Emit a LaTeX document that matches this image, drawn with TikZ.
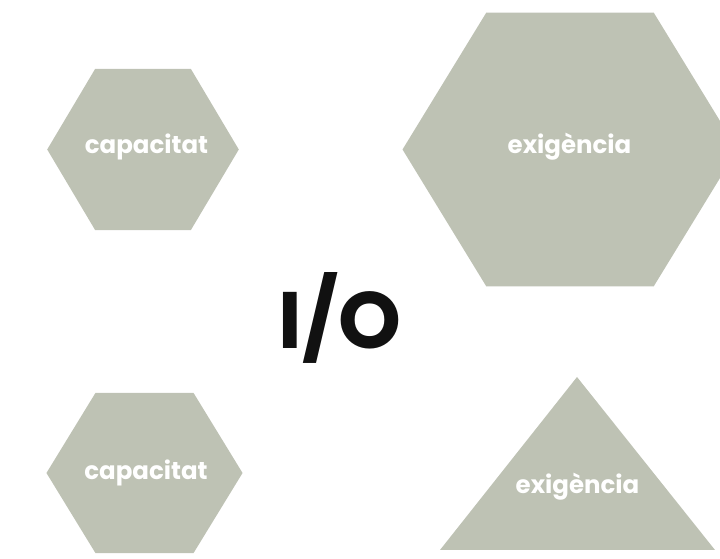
\documentclass[tikz,border=0pt]{standalone}
\usepackage{fontspec}
\setmainfont{Poppins}
\usepackage{tikz}
\usetikzlibrary{shapes.geometric}
\definecolor{sage}{HTML}{BEC2B4}
\definecolor{ink}{HTML}{111111}
\tikzset{
  hexa/.style ={regular polygon, regular polygon sides=6, fill=sage, draw=none,
                inner sep=0pt, outer sep=0pt, transform shape},
  word/.style ={font=\fontsize{24.5}{28}\selectfont\bfseries, text=white},
  tri/.style  ={fill=sage, draw=none},
}
\begin{document}
\begin{tikzpicture}[x=1pt,y=1pt]
  \useasboundingbox (0,0) rectangle (720,559);
  \clip (0,0) rectangle (720,559);
  % hexagons
  \node[hexa, minimum size=186pt, xscale=1.03](capA) at (143,409.5){};
  \node[hexa, minimum size=316pt, xscale=1.06](exiA) at (570,409.5){};
  \node[hexa, minimum size=185pt, xscale=1.06](capB) at (144.5,86){};
  % triangle
  \coordinate (tl) at (440,9);
  \coordinate (tr) at (715,9);
  \coordinate (tt) at (577,182);
  \fill[tri] (tl) -- (tr) -- (tt) -- cycle;
  % labels
  \node[word] (capAt) at (146.5,412){capacitat};
  \node[word] (exiAt) at (569.5,412){exigència};
  \node[word] (capBt) at (146,86){capacitat};
  \node[word] (exiBt) at (577.5,72){exigència};
  \node[font=\fontsize{80}{86}\selectfont\bfseries, text=ink, anchor=base, inner sep=0pt] (io) at (340,210){I/O};
\end{tikzpicture}
\end{document}
